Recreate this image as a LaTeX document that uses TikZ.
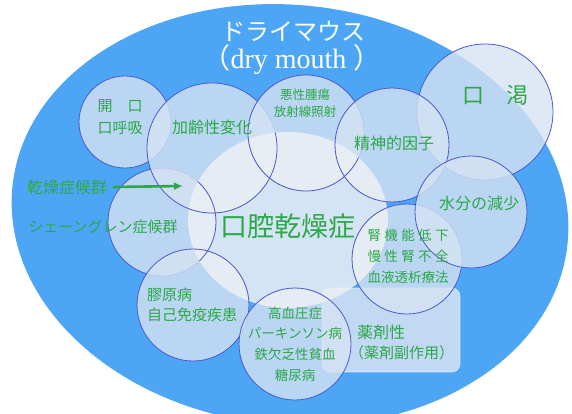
\documentclass[tikz,border=0pt]{standalone}
\usepackage{fontspec}
\setmainfont{Liberation Serif}
\newfontfamily\jp{Noto Sans CJK JP}
\usetikzlibrary{arrows.meta}
\definecolor{ellblue}{RGB}{77,166,245}
\definecolor{cfill}{RGB}{214,227,243}
\definecolor{cline}{RGB}{75,90,200}
\definecolor{tgreen}{RGB}{44,168,72}
\definecolor{blobc}{RGB}{237,240,245}
\begin{document}
\begin{tikzpicture}[x=1pt,y=-1pt,
  circ/.style={circle, draw=cline, line width=0.8pt, fill=cfill, fill opacity=0.8, inner sep=0},
  lbl/.style={text=tgreen, inner sep=0, align=center},
  arrowline/.style={draw=tgreen, line width=2.6pt, -{Latex[length=9pt,width=8pt]}},
]
\useasboundingbox (0,0) rectangle (572,414);
\fill[ellblue, rotate around={-6:(290,215)}] (290,215) ellipse [x radius=279, y radius=210];

\node[circ, minimum size=92pt] (cA) at (125,122) {};
\node[circ, minimum size=108pt] (cJ) at (162,222) {};
\node[circ, minimum size=112pt] (cI) at (193,305) {};
\node[circ, minimum size=130pt] (cB) at (212,148) {};
\node[circ, minimum size=116pt] (cC) at (306,133) {};
\node[circ, minimum size=136pt] (cE) at (485,112) {};
\node[circ, minimum size=114pt] (cD) at (392,145) {};
\node[draw=white, draw opacity=0.6, line width=0.6pt, fill=cfill, fill opacity=0.85, rounded corners=8pt, minimum width=138pt, minimum height=84pt, inner sep=0] (rK) at (391,330) {};
\node[circ, minimum size=110pt] (cG) at (407,259) {};
\node[circ, minimum size=112pt] (cF) at (471,212) {};
\node[circ, minimum size=112pt] (cH) at (295,344) {};

\fill[blobc, opacity=0.85] (288,220) ellipse [x radius=100, y radius=88];
\begin{scope}
\clip (288,220) ellipse [x radius=100, y radius=88];
\foreach \n/\r in {cB/65, cC/58, cD/57, cG/55, cH/56, cI/56, cJ/54}
  \draw[cline, line width=0.8pt] (\n.center) circle [radius=\r];
\end{scope}

\node[lbl, text=white, font=\jp\fontsize{24}{26}\selectfont] (t1) at (293,31) {ドライマウス};
\node[lbl, text=white, font=\fontsize{28}{30}\selectfont] (t2) at (292,60) {{\jp （}dry mouth {\jp ）}};

\node[lbl, font=\jp\fontsize{15}{22}\selectfont] (tA) at (120,117) {開　口\\口呼吸};
\node[lbl, font=\jp\fontsize{16}{18}\selectfont] (tB) at (212,127) {加齢性変化};
\node[lbl, font=\jp\fontsize{12.5}{17}\selectfont] (tC) at (305,103.5) {悪性腫瘍\\放射線照射};
\node[lbl, font=\jp\fontsize{16}{18}\selectfont] (tD) at (394,143) {精神的因子};
\node[lbl, font=\jp\fontsize{22}{24}\selectfont] (tE) at (495,95) {口　渇};
\node[lbl, font=\jp\fontsize{16}{18}\selectfont] (tF) at (479,203) {水分の減少};
\node[lbl, font=\jp\fontsize{13.5}{21}\selectfont] (tG) at (408,256)
  {\makebox[81pt][s]{腎\hfill 機\hfill 能\hfill 低\hfill 下}\\\makebox[81pt][s]{慢\hfill 性\hfill 腎\hfill 不\hfill 全}\\血液透析療法};
\node[lbl, align=left, anchor=west, font=\jp\fontsize{15}{20}\selectfont] (tI) at (147,305) {膠原病\\自己免疫疾患};
\node[lbl, font=\jp\fontsize{13.5}{20.7}\selectfont] (tH) at (295,344) {高血圧症\\パーキンソン病\\鉄欠乏性貧血\\糖尿病};
\node[lbl, anchor=west, font=\jp\fontsize{16}{18}\selectfont] (tK1) at (357,332) {薬剤性};
\node[lbl, anchor=west, font=\jp\fontsize{15}{18}\selectfont] (tK2) at (349,353) {（薬剤副作用）};
\node[lbl, font=\jp\fontsize{16}{18}\selectfont] (tX) at (67,187) {乾燥症候群};
\node[lbl, font=\jp\fontsize{15}{18}\selectfont] (tJ) at (103,227) {シェーングレン症候群};
\node[lbl, font=\jp\fontsize{27}{29}\selectfont] (tM) at (288,226) {口腔乾燥症};

\coordinate (arrEnd) at (183,186);
\draw[arrowline] ([xshift=6pt]tX.east) -- (arrEnd);
\end{tikzpicture}
\end{document}
